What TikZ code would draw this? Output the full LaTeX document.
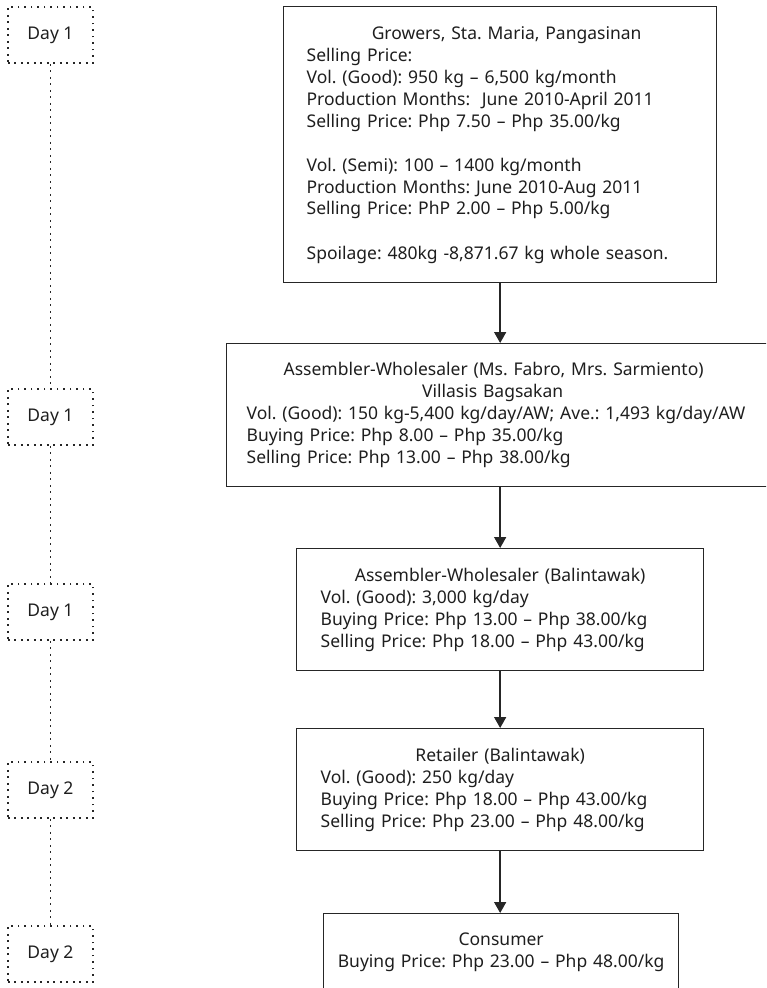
\documentclass[tikz,border=0pt]{standalone}
\usepackage{fontspec}
\setmainfont{Noto Sans}
\usetikzlibrary{arrows.meta}

\definecolor{inkc}{HTML}{1E1E1E}
\definecolor{edgec}{HTML}{262626}
\newcommand\flowfont{\fontsize{17.5}{22}\selectfont\frenchspacing}

\tikzset{
  stagebox/.style={draw=edgec, line width=1.3pt, rectangle, anchor=north west,
    font=\flowfont, text=inkc, align=left, inner ysep=0pt},
  daybox/.style={draw=edgec, line width=1.9pt, dash pattern=on 1.9pt off 4.6pt,
    rectangle, anchor=north west, minimum width=85pt, minimum height=56pt,
    inner sep=0pt, font=\flowfont, text=inkc},
  dayline/.style={draw=edgec, line width=1.9pt, dash pattern=on 1.9pt off 4.6pt},
  flow/.style={draw=edgec, line width=1.6pt, -{Triangle[width=12pt,length=11pt]}}
}

\begin{document}
\begin{tikzpicture}[x=1pt,y=-1pt]
\useasboundingbox (0,0) rectangle (766,988);
\clip (0,0) rectangle (766,988);

% stages of the marketing chain
\node[stagebox, text width=387pt, inner xsep=23pt, minimum height=276pt] (grow) at (283,6) {%
  \makebox[\linewidth]{\hspace*{13pt}Growers, Sta. Maria, Pangasinan}\\
  Selling Price:\\
  Vol. (Good): 950 kg – 6,500 kg/month\\
  Production Months:\ \ June 2010-April 2011\\
  Selling Price: Php 7.50 – Php 35.00/kg\\[22pt]
  Vol. (Semi): 100 – 1400 kg/month\\
  Production Months: June 2010-Aug 2011\\
  Selling Price: PhP 2.00 – Php 5.00/kg\\[22pt]
  Spoilage: 480kg -8,871.67 kg whole season.};

\node[stagebox, text width=508pt, inner xsep=20pt, minimum height=143pt] (villasis) at (226,343) {%
  \makebox[\linewidth]{Assembler-Wholesaler (Ms. Fabro, Mrs. Sarmiento)\hspace*{14pt}}\\
  \makebox[\linewidth]{Villasis Bagsakan\hspace*{16pt}}\\
  Vol. (Good): 150 kg-5,400 kg/day/AW; Ave.: 1,493 kg/day/AW\\
  Buying Price: Php 8.00 – Php 35.00/kg\\
  Selling Price: Php 13.00 – Php 38.00/kg};

\node[stagebox, text width=359pt, inner xsep=24pt, minimum height=122pt] (balwhole) at (296,548) {%
  \makebox[\linewidth]{Assembler-Wholesaler (Balintawak)}\\
  Vol. (Good): 3,000 kg/day\\
  Buying Price: Php 13.00 – Php 38.00/kg\\
  Selling Price: Php 18.00 – Php 43.00/kg};

\node[stagebox, text width=359pt, inner xsep=24pt, minimum height=122pt] (retail) at (296,728) {%
  \makebox[\linewidth]{Retailer (Balintawak)}\\
  Vol. (Good): 250 kg/day\\
  Buying Price: Php 18.00 – Php 43.00/kg\\
  Selling Price: Php 23.00 – Php 48.00/kg};

\node[stagebox, text width=335pt, inner xsep=10pt, minimum height=78pt, align=center] (consumer) at (323,913) {%
  Consumer\\
  Buying Price: Php 23.00 – Php 48.00/kg};

% flow between stages, all on the axis of the growers' box
\coordinate (axis) at (grow.south);
\draw[flow] (grow.south) -- (axis |- villasis.north);
\draw[flow] (axis |- villasis.south) -- (axis |- balwhole.north);
\draw[flow] (axis |- balwhole.south) -- (axis |- retail.north);
\draw[flow] (axis |- retail.south) -- (axis |- consumer.north);

% timeline
\node[daybox] (day1a) at (7,6) {Day 1};
\node[daybox] (day1b) at (7,388) {Day 1};
\node[daybox] (day1c) at (7,583) {Day 1};
\node[daybox] (day2a) at (7,761) {Day 2};
\node[daybox] (day2b) at (7,925) {Day 2};

\draw[dayline] (day1a.south) -- (day1b.north);
\draw[dayline] (day1b.south) -- (day1c.north);
\draw[dayline] (day1c.south) -- (day2a.north);
\draw[dayline] (day2a.south) -- (day2b.north);
\end{tikzpicture}
\end{document}
